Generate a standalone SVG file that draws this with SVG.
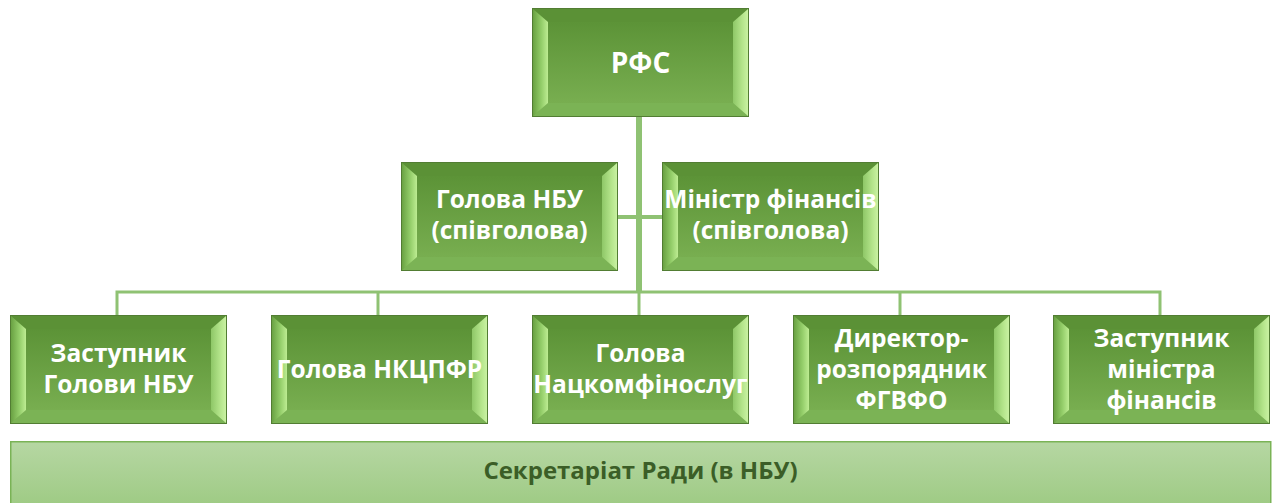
<svg xmlns="http://www.w3.org/2000/svg" xmlns:xlink="http://www.w3.org/1999/xlink" width="1276" height="503" viewBox="0 0 1276 503">
<defs>
<linearGradient id="face" x1="0" y1="0" x2="0" y2="1">
<stop offset="0" stop-color="#5c9337"/>
<stop offset="1" stop-color="#78ae50"/>
</linearGradient>
<linearGradient id="outer" x1="0" y1="0" x2="0" y2="1">
<stop offset="0" stop-color="#5a9035"/>
<stop offset="1" stop-color="#74aa4d"/>
</linearGradient>
<linearGradient id="lbev" x1="0" y1="0" x2="1" y2="0">
<stop offset="0" stop-color="#6aa243"/>
<stop offset="0.55" stop-color="#93cd69"/>
<stop offset="1" stop-color="#bdec92"/>
</linearGradient>
<linearGradient id="rbev" x1="0" y1="0" x2="1" y2="0">
<stop offset="0" stop-color="#8ec767"/>
<stop offset="0.6" stop-color="#b3e48a"/>
<stop offset="1" stop-color="#c9f2a2"/>
</linearGradient>
<linearGradient id="bar" x1="0" y1="0" x2="0" y2="1">
<stop offset="0" stop-color="#b6d7a3"/>
<stop offset="1" stop-color="#9fcb85"/>
</linearGradient>
<g id="bevel">
<rect x="0.5" y="0.5" width="216" height="108" fill="url(#outer)" stroke="#527d33" stroke-width="1"/>
<polygon points="1,1 216,1 201,14 16,14" fill="#5b9136"/>
<polygon points="1,108 16,95 201,95 216,108" fill="#7bb355"/>
<polygon points="1,1 16,14 16,95 1,108" fill="url(#lbev)"/>
<polygon points="216,1 201,14 201,95 216,108" fill="url(#rbev)"/>
<rect x="16" y="14" width="185" height="81" fill="url(#face)"/>
</g>
</defs>
<style>
.t{font-family:"Open Sans","Noto Sans","DejaVu Sans",sans-serif;font-weight:bold;fill:#ffffff;text-anchor:middle;font-size:24.5px}
.big{font-size:28px}
.bt{font-family:"Open Sans","Noto Sans","DejaVu Sans",sans-serif;font-weight:bold;fill:#3b5e27;text-anchor:middle;font-size:24px}
.c{stroke:#8fc273;fill:none}
</style>
<g id="connectors">
<line class="c" x1="639" y1="117" x2="639" y2="293" stroke-width="6"/>
<line class="c" x1="618" y1="217" x2="662" y2="217" stroke-width="4"/>
<polyline class="c" points="117,315 117,292 1160,292 1160,315" stroke-width="3"/>
<line class="c" x1="378" y1="292" x2="378" y2="315" stroke-width="3"/>
<line class="c" x1="639" y1="292" x2="639" y2="315" stroke-width="3"/>
<line class="c" x1="900" y1="292" x2="900" y2="315" stroke-width="3"/>
</g>
<g id="n-rfs">
<use xlink:href="#bevel" x="532" y="8"/>
<text class="t big" x="640.5" y="73">РФС</text>
</g>
<g id="n-nbu">
<use xlink:href="#bevel" x="401" y="162"/>
<text class="t" x="509.5" y="208">Голова НБУ</text>
<text class="t" x="509.5" y="239">(співголова)</text>
</g>
<g id="n-minfin">
<use xlink:href="#bevel" x="662" y="162"/>
<text class="t" x="770.5" y="208">Міністр фінансів</text>
<text class="t" x="770.5" y="239">(співголова)</text>
</g>
<g id="n-deputy-nbu">
<use xlink:href="#bevel" x="10" y="315"/>
<text class="t" x="118.5" y="362">Заступник</text>
<text class="t" x="118.5" y="393">Голови НБУ</text>
</g>
<g id="n-nkcpfr">
<use xlink:href="#bevel" x="271" y="315"/>
<text class="t" x="379.5" y="378">Голова НКЦПФР</text>
</g>
<g id="n-nackom">
<use xlink:href="#bevel" x="532" y="315"/>
<text class="t" x="640.5" y="362">Голова</text>
<text class="t" x="640.5" y="393">Нацкомфінослуг</text>
</g>
<g id="n-fgvfo">
<use xlink:href="#bevel" x="793" y="315"/>
<text class="t" x="901.5" y="347">Директор-</text>
<text class="t" x="901.5" y="378">розпорядник</text>
<text class="t" x="901.5" y="409">ФГВФО</text>
</g>
<g id="n-deputy-min">
<use xlink:href="#bevel" x="1053" y="315"/>
<text class="t" x="1161.5" y="347">Заступник</text>
<text class="t" x="1161.5" y="378">міністра</text>
<text class="t" x="1161.5" y="409">фінансів</text>
</g>
<g id="n-secretariat">
<rect x="10.75" y="441.75" width="1260" height="62" fill="url(#bar)" stroke="#7ab356" stroke-width="1.5"/>
<text class="bt" x="640.5" y="479">Секретаріат Ради (в НБУ)</text>
</g>
</svg>
